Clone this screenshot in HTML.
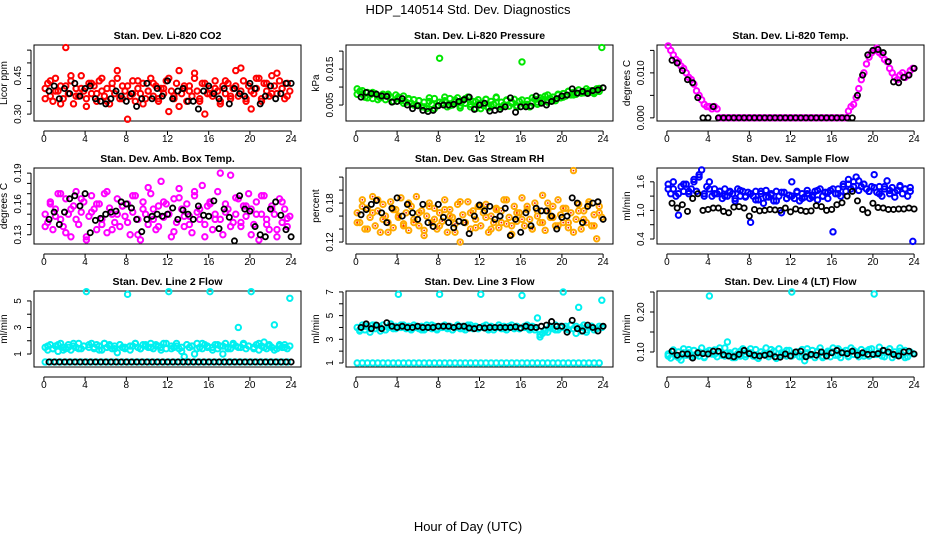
<!DOCTYPE html>
<html><head><meta charset="utf-8"><style>
html,body{margin:0;padding:0;background:#fff;}
svg{display:block;font-family:"Liberation Sans",sans-serif;}
</style></head><body>
<svg id="chart" width="936" height="540" viewBox="0 0 936 540" xmlns="http://www.w3.org/2000/svg">
<rect width="936" height="540" fill="#fff"/>
<text x="468" y="14" font-size="13" text-anchor="middle">HDP_140514  Std. Dev. Diagnostics</text>
<text x="468" y="531" font-size="13" text-anchor="middle">Hour of Day (UTC)</text>
</svg>
<script>
// ---- data ----
const co2Main=[0.40,0.42,0.37,0.35,0.44,0.39,0.41,0.36,0.56,0.38,0.43,0.34,0.40,0.37,0.45,0.39,0.36,0.42,0.38,0.41,0.35,0.43,0.39,0.37,0.40,0.34,0.42,0.38,0.44,0.36,0.41,0.39,0.28,0.37,0.43,0.35,0.40,0.38,0.42,0.36,0.39,0.44,0.37,0.41,0.35,0.40,0.38,0.43,0.31,0.39,0.36,0.42,0.47,0.38,0.40,0.35,0.41,0.37,0.44,0.39,0.36,0.42,0.30,0.38,0.40,0.37,0.43,0.39,0.35,0.41,0.38,0.42,0.36,0.40,0.47,0.37,0.39,0.43,0.35,0.41,0.32,0.38,0.40,0.44,0.36,0.42,0.39,0.37,0.45,0.41,0.38,0.43,0.40,0.36,0.42,0.39];
const co2Extra=[0.36,0.43,0.39,0.34,0.41,0.45,0.37,0.40,0.33,0.42,0.38,0.44,0.35,0.40,0.47,0.36,0.41,0.38,0.43,0.34,0.39,0.42,0.36,0.40,0.44,0.37,0.33,0.41,0.39,0.46,0.35,0.42,0.38,0.40,0.34,0.43,0.37,0.41,0.48,0.36,0.39,0.44,0.35,0.42,0.38,0.46,0.40,0.37];
const co2Black=[0.39,0.41,0.36,0.40,0.38,0.42,0.37,0.40,0.41,0.36,0.35,0.34,0.36,0.39,0.37,0.35,0.38,0.33,0.36,0.42,0.36,0.40,0.37,0.43,0.36,0.39,0.40,0.35,0.35,0.32,0.39,0.41,0.38,0.36,0.40,0.34,0.40,0.38,0.37,0.42,0.40,0.34,0.37,0.41,0.36,0.38,0.42,0.42];
const presMain=[0.0095,0.0088,0.0080,0.0072,0.0085,0.0078,0.0068,0.0082,0.0075,0.0070,0.0080,0.0065,0.0076,0.0072,0.0060,0.0078,0.0070,0.0062,0.0075,0.0058,0.0068,0.0055,0.0065,0.0050,0.0062,0.0045,0.0058,0.0040,0.0060,0.0052,0.0068,0.0048,0.0180,0.0055,0.0062,0.0045,0.0068,0.0050,0.0058,0.0070,0.0048,0.0062,0.0055,0.0072,0.0045,0.0060,0.0040,0.0065,0.0055,0.0048,0.0066,0.0042,0.0060,0.0052,0.0070,0.0045,0.0058,0.0050,0.0064,0.0047,0.0058,0.0066,0.0044,0.0060,0.0170,0.0050,0.0062,0.0045,0.0058,0.0066,0.0052,0.0070,0.0060,0.0075,0.0058,0.0068,0.0072,0.0062,0.0078,0.0070,0.0082,0.0075,0.0088,0.0078,0.0085,0.0080,0.0092,0.0083,0.0088,0.0095,0.0085,0.0090,0.0082,0.0095,0.0088,0.0210];
const presExtra=[0.0080,0.0090,0.0070,0.0085,0.0065,0.0075,0.0080,0.0060,0.0072,0.0055,0.0066,0.0050,0.0062,0.0045,0.0070,0.0040,0.0058,0.0072,0.0048,0.0064,0.0042,0.0068,0.0052,0.0060,0.0040,0.0066,0.0050,0.0072,0.0044,0.0062,0.0055,0.0048,0.0064,0.0052,0.0070,0.0058,0.0066,0.0078,0.0062,0.0080,0.0072,0.0088,0.0078,0.0092,0.0084,0.0090,0.0086,0.0096];
const presBlack=[0.0072,0.0085,0.0082,0.0080,0.0075,0.0074,0.0058,0.0060,0.0068,0.0050,0.0040,0.0048,0.0035,0.0032,0.0035,0.0048,0.0050,0.0050,0.0052,0.0060,0.0065,0.0072,0.0038,0.0050,0.0055,0.0033,0.0035,0.0038,0.0045,0.0070,0.0030,0.0045,0.0045,0.0047,0.0075,0.0055,0.0050,0.0060,0.0068,0.0075,0.0078,0.0095,0.0083,0.0088,0.0082,0.0090,0.0092,0.0098];
const tempMain=[0.0160,0.0150,0.0140,0.0130,0.0125,0.0115,0.0110,0.0100,0.0090,0.0085,0.0075,0.0060,0.0050,0.0040,0.0030,0.0025,0.0025,0.0020,0.0025,0.0020,0,0,0,0,0,0,0,0,0,0,0,0,0,0,0,0,0,0,0,0,0,0,0,0,0,0,0,0,0,0,0,0,0,0,0,0,0,0,0,0,0,0,0,0,0,0,0,0,0,0,0.0015,0.0025,0.0030,0.0045,0.0065,0.0085,0.0100,0.0120,0.0135,0.0145,0.0150,0.0155,0.0145,0.0140,0.0130,0.0125,0.0110,0.0100,0.0090,0.0085,0.0095,0.0100,0.0090,0.0095,0.0105,0.0110];
const tempBlack=[0.0128,0.0122,0.0105,0.0085,0.0078,0.0045,0,0,0.0025,0,0,0,0,0,0,0,0,0,0,0,0,0,0,0,0,0,0,0,0,0,0,0,0,0,0,0,0.0050,0.0095,0.0140,0.0150,0.0152,0.0145,0.0125,0.0080,0.0078,0.0090,0.0095,0.0110];
const boxMain=[0.150,0.142,0.160,0.135,0.155,0.170,0.145,0.138,0.165,0.150,0.128,0.158,0.172,0.140,0.152,0.162,0.125,0.148,0.168,0.155,0.135,0.160,0.145,0.170,0.132,0.156,0.150,0.142,0.165,0.138,0.158,0.148,0.160,0.130,0.152,0.168,0.145,0.125,0.162,0.150,0.140,0.170,0.155,0.135,0.158,0.182,0.147,0.160,0.150,0.128,0.165,0.142,0.175,0.155,0.138,0.160,0.148,0.132,0.168,0.152,0.145,0.178,0.140,0.158,0.162,0.135,0.150,0.172,0.145,0.130,0.160,0.155,0.188,0.142,0.150,0.165,0.138,0.158,0.148,0.170,0.155,0.140,0.162,0.125,0.150,0.168,0.145,0.135,0.158,0.150,0.128,0.165,0.142,0.155,0.138,0.148];
const boxExtra=[0.138,0.162,0.148,0.170,0.132,0.155,0.145,0.165,0.128,0.152,0.160,0.140,0.172,0.135,0.150,0.158,0.142,0.168,0.130,0.155,0.176,0.145,0.138,0.162,0.150,0.133,0.166,0.148,0.140,0.172,0.155,0.128,0.160,0.145,0.190,0.152,0.138,0.166,0.142,0.158,0.130,0.150,0.168,0.140,0.155,0.135,0.162,0.146];
const boxBlack=[0.145,0.152,0.140,0.152,0.165,0.168,0.158,0.170,0.132,0.144,0.146,0.150,0.152,0.153,0.162,0.160,0.156,0.145,0.133,0.145,0.148,0.150,0.148,0.150,0.156,0.145,0.154,0.150,0.145,0.158,0.149,0.148,0.163,0.136,0.155,0.147,0.124,0.168,0.155,0.153,0.138,0.130,0.128,0.155,0.162,0.149,0.135,0.128];
const rhMain=[0.165,0.150,0.185,0.140,0.172,0.158,0.190,0.145,0.168,0.135,0.178,0.160,0.150,0.182,0.142,0.170,0.158,0.188,0.148,0.165,0.138,0.175,0.155,0.190,0.145,0.168,0.130,0.160,0.180,0.150,0.172,0.140,0.165,0.152,0.185,0.135,0.170,0.158,0.148,0.178,0.120,0.162,0.150,0.182,0.140,0.168,0.155,0.175,0.145,0.165,0.178,0.135,0.160,0.150,0.172,0.142,0.168,0.185,0.148,0.158,0.132,0.175,0.152,0.165,0.188,0.145,0.170,0.155,0.140,0.180,0.160,0.150,0.192,0.138,0.168,0.158,0.175,0.145,0.185,0.162,0.150,0.172,0.142,0.165,0.230,0.155,0.178,0.140,0.168,0.150,0.182,0.145,0.162,0.125,0.175,0.158];
const rhExtra=[0.150,0.175,0.140,0.165,0.185,0.155,0.135,0.170,0.160,0.145,0.180,0.150,0.165,0.138,0.175,0.155,0.145,0.170,0.160,0.135,0.182,0.150,0.165,0.142,0.175,0.158,0.140,0.170,0.150,0.185,0.145,0.165,0.155,0.175,0.140,0.168,0.150,0.180,0.158,0.145,0.172,0.150,0.135,0.168,0.155,0.178,0.145,0.165];
const rhBlack=[0.162,0.170,0.178,0.184,0.165,0.150,0.172,0.188,0.160,0.178,0.165,0.155,0.178,0.150,0.144,0.178,0.158,0.150,0.142,0.152,0.150,0.133,0.160,0.177,0.168,0.175,0.155,0.160,0.172,0.130,0.155,0.135,0.165,0.145,0.172,0.168,0.168,0.160,0.140,0.158,0.160,0.188,0.180,0.150,0.175,0.180,0.182,0.155];
const flowMain=[1.55,1.35,1.45,1.30,0.90,1.50,1.40,1.55,1.35,1.45,1.60,1.40,1.70,1.85,1.35,1.50,1.60,1.30,1.45,1.35,1.40,1.25,1.45,1.30,1.40,1.35,1.20,1.45,1.30,1.40,1.28,1.38,0.75,1.30,1.40,1.22,1.35,1.15,1.42,1.28,1.35,1.20,1.40,1.30,0.95,1.38,1.25,1.32,1.60,1.25,1.38,1.20,1.35,1.28,1.42,1.25,1.32,1.40,1.22,1.45,1.30,1.38,1.25,1.42,0.55,1.35,1.45,1.30,1.50,1.40,1.55,1.45,1.60,1.70,1.62,1.50,1.55,1.45,1.40,1.50,1.75,1.38,1.50,1.30,1.45,1.62,1.35,1.48,1.28,1.42,1.52,1.35,1.45,1.30,1.48,0.35];
const flowExtra=[1.45,1.60,1.35,1.55,1.40,1.65,1.75,1.30,1.45,1.35,1.40,1.30,1.38,1.25,1.42,1.30,1.35,1.22,1.40,1.28,1.32,1.20,1.38,1.25,1.30,1.40,1.25,1.35,1.28,1.42,1.30,1.38,1.45,1.35,1.55,1.65,1.50,1.42,1.55,1.40,1.48,1.35,1.50,1.42,1.38,1.50,1.45,1.40];
const flowBlack=[1.15,1.05,1.12,0.98,1.25,1.35,1.00,1.02,1.05,1.05,0.98,0.95,1.07,1.08,1.05,0.88,1.02,0.99,1.00,1.02,1.01,1.00,1.05,0.97,1.03,1.00,0.98,0.99,1.10,1.08,1.00,1.02,1.12,1.16,1.30,1.40,1.20,1.02,0.95,1.15,1.06,1.05,1.02,1.02,1.03,1.03,1.05,1.03];
const line2Main=[1.5,1.3,1.7,1.4,1.6,1.2,1.8,1.5,1.4,1.7,1.3,1.6,1.5,1.8,1.4,1.6,5.7,1.5,1.8,1.4,1.7,1.6,1.3,1.8,1.5,1.7,1.4,1.6,1.1,1.7,1.5,1.4,5.5,1.3,1.6,1.8,1.5,1.4,1.7,1.6,1.5,1.8,1.4,1.7,1.6,1.5,1.8,1.4,5.7,1.6,1.5,1.8,1.4,1.2,0.8,1.7,1.5,1.6,1.0,1.8,1.5,1.4,1.7,1.6,5.7,1.5,1.7,1.4,1.6,1.0,1.8,1.5,1.4,1.7,1.6,3.0,1.5,1.8,1.4,1.6,5.7,1.5,1.7,1.3,1.6,1.9,1.4,1.7,1.5,3.2,1.4,1.6,1.5,1.7,1.4,5.2];
const line2Low=[0.4,0.4,0.4,0.4,0.4,0.4,0.4,0.4,0.4,0.4,0.4,0.4,0.4,0.4,0.4,0.4,0.4,0.4,0.4,0.4,0.4,0.4,0.4,0.4,0.4,0.4,0.4,0.4,0.4,0.4,0.4,0.4,0.4,0.4,0.4,0.4,0.4,0.4,0.4,0.4,0.4,0.4,0.4,0.4,0.4,0.4,0.4,0.4];
const line2Extra=[1.6,1.4,1.7,1.3,1.5,1.8,1.4,1.6,1.7,1.5,1.3,1.8,1.6,1.4,1.7,1.5,1.6,1.8,1.4,1.7,1.5,1.6,1.3,1.8,1.4,1.6,1.5,1.7,1.6,1.4,1.8,1.5,1.3,1.7,1.6,1.4,1.8,1.5,1.7,1.6,1.4,1.8,1.5,1.6,1.3,1.7,1.5,1.6];
const line2Black=[0.4,0.4,0.4,0.4,0.4,0.4,0.4,0.4,0.4,0.4,0.4,0.4,0.4,0.4,0.4,0.4,0.4,0.4,0.4,0.4,0.4,0.4,0.4,0.4,0.4,0.4,0.4,0.4,0.4,0.4,0.4,0.4,0.4,0.4,0.4,0.4,0.4,0.4,0.4,0.4,0.4,0.4,0.4,0.4,0.4,0.4,0.4,0.4];
const line3Main=[4.0,3.7,4.2,3.8,4.1,3.6,4.2,3.9,4.1,3.7,4.2,3.8,4.0,4.3,3.9,4.1,6.8,4.0,4.2,3.9,4.1,3.8,4.2,4.0,3.9,4.1,3.8,4.2,4.0,3.9,4.1,3.8,6.8,4.0,4.2,3.9,4.1,3.8,4.0,4.2,3.9,4.1,3.8,4.0,4.2,3.9,4.1,3.9,6.8,4.0,4.2,3.9,4.1,3.8,4.0,4.2,3.9,4.1,3.8,4.0,4.2,3.9,4.1,3.9,6.7,4.0,4.2,3.9,4.1,3.8,4.8,3.2,3.5,3.8,3.6,4.1,3.9,4.2,3.8,4.0,7.0,4.1,3.8,4.2,3.9,4.1,5.7,3.7,4.2,3.6,4.0,4.1,3.8,3.9,4.1,6.3];
const line3Low=[1.0,1.0,1.0,1.0,1.0,1.0,1.0,1.0,1.0,1.0,1.0,1.0,1.0,1.0,1.0,1.0,1.0,1.0,1.0,1.0,1.0,1.0,1.0,1.0,1.0,1.0,1.0,1.0,1.0,1.0,1.0,1.0,1.0,1.0,1.0,1.0,1.0,1.0,1.0,1.0,1.0,1.0,1.0,1.0,1.0,1.0,1.0,1.0];
const line3Extra=[3.8,4.1,3.9,4.2,4.0,3.8,4.1,3.9,4.2,4.0,3.9,4.1,3.8,4.0,4.2,3.9,4.1,4.0,3.8,4.1,3.9,4.2,4.0,3.9,4.1,3.8,4.0,4.2,3.9,4.1,4.0,3.9,4.1,3.8,4.0,3.4,3.7,4.0,3.8,4.1,3.9,4.2,3.5,4.0,3.8,4.1,3.9,4.0];
const line3Black=[4.0,4.3,3.9,4.2,3.9,4.4,4.1,4.0,4.1,4.0,4.0,4.1,4.0,4.0,4.0,4.1,4.1,4.1,4.0,4.1,4.1,3.95,3.9,4.0,3.95,4.0,4.0,4.0,4.0,4.0,4.05,3.95,4.1,4.0,4.0,4.1,4.2,4.5,4.1,4.1,3.6,4.6,3.9,3.7,4.2,4.0,3.7,4.1];
const line4Main=[0.095,0.085,0.105,0.090,0.100,0.080,0.108,0.092,0.098,0.088,0.104,0.094,0.090,0.110,0.086,0.100,0.240,0.095,0.105,0.088,0.100,0.092,0.110,0.125,0.094,0.086,0.102,0.096,0.090,0.108,0.088,0.100,0.098,0.090,0.106,0.084,0.100,0.094,0.110,0.088,0.096,0.102,0.086,0.108,0.092,0.098,0.090,0.104,0.250,0.094,0.100,0.088,0.106,0.078,0.098,0.092,0.104,0.086,0.100,0.110,0.090,0.096,0.102,0.088,0.100,0.092,0.108,0.086,0.098,0.104,0.090,0.110,0.094,0.100,0.088,0.106,0.096,0.102,0.090,0.108,0.245,0.094,0.112,0.090,0.104,0.098,0.108,0.086,0.100,0.094,0.110,0.092,0.104,0.088,0.100,0.096];
const line4Extra=[0.090,0.102,0.086,0.098,0.106,0.092,0.100,0.088,0.104,0.094,0.110,0.090,0.098,0.086,0.102,0.094,0.108,0.088,0.100,0.092,0.106,0.084,0.098,0.104,0.090,0.100,0.088,0.108,0.094,0.102,0.086,0.098,0.110,0.092,0.100,0.088,0.104,0.096,0.090,0.106,0.094,0.100,0.088,0.108,0.092,0.102,0.086,0.098];
const line4Black=[0.102,0.092,0.095,0.095,0.085,0.098,0.096,0.095,0.102,0.102,0.093,0.090,0.088,0.094,0.104,0.096,0.092,0.090,0.092,0.095,0.088,0.087,0.095,0.090,0.100,0.102,0.088,0.094,0.092,0.100,0.090,0.098,0.104,0.098,0.096,0.102,0.092,0.098,0.094,0.094,0.096,0.104,0.100,0.094,0.090,0.100,0.102,0.095];
const xTickLabels=["0","4","8","12","16","20","24"];
const panelTitles=["Stan. Dev. Li-820 CO2","Stan. Dev. Li-820 Pressure","Stan. Dev. Li-820 Temp.","Stan. Dev. Amb. Box Temp.","Stan. Dev. Gas Stream RH","Stan. Dev. Sample Flow","Stan. Dev. Line 2 Flow","Stan. Dev. Line 3 Flow","Stan. Dev. Line 4 (LT) Flow"];
const yLabels=["Licor ppm","kPa","degrees C","degrees C","percent","ml/min","ml/min","ml/min","ml/min"];
const yTicks=[[0.30,0.35,0.40,0.45,0.50,0.55],[0.005,0.010,0.015,0.020],[0,0.005,0.010,0.015],[0.13,0.14,0.15,0.16,0.17,0.18,0.19],[0.12,0.14,0.16,0.18,0.20,0.22],[0.4,0.7,1.0,1.3,1.6],[1,2,3,4,5],[1,2,3,4,5,6,7],[0.10,0.15,0.20,0.25]];
const yTickText=[["0.30","","","0.45","",""],["0.005","","0.015",""],["0.000","","0.010",""],["0.13","","","0.16","","","0.19"],["0.12","","","0.18","",""],["0.4","","1.0","","1.6"],["1","","3","","5"],["1","","3","","5","","7"],["0.10","","0.20",""]];
const yRanges=[[0.273,0.57],[0.00056,0.0217],[-0.0007,0.0162],[0.121,0.195],[0.117,0.234],[0.295,1.89],[0.02,5.75],[0.66,7.08],[0.0625,0.2525]];
const mainSeries=[[co2Main,co2Extra],[presMain,presExtra],[tempMain],[boxMain,boxExtra],[rhMain,rhExtra],[flowMain,flowExtra],[line2Main,line2Low,line2Extra],[line3Main,line3Low,line3Extra],[line4Main,line4Extra]];
const blackSeries=[co2Black,presBlack,tempBlack,boxBlack,rhBlack,flowBlack,line2Black,line3Black,line4Black];
const seriesColors=["#ff0000","#00e600","#ff00ff","#ff00ff","#ffaa00","#0000ff","#00f0f0","#00f0f0","#00f0f0"];
const seriesNames=["co2","pressure","li820-temp","box-temp","rh","sample-flow","line2-flow","line3-flow","line4-flow"];

const NS="http://www.w3.org/2000/svg";
const svg=document.getElementById('chart');
const boxLefts=[34,346,657],boxTops=[45,168,291],BW=267,BH=76,XMIN=-0.96,XMAX=24.96;
const offsets=[0.5,0.25,0.75];
function mk(tag,attrs,parent){const e=document.createElementNS(NS,tag);for(const k in attrs)e.setAttribute(k,attrs[k]);parent.appendChild(e);return e;}
for(let p=0;p<9;p++){
  const L=boxLefts[p%3],T=boxTops[Math.floor(p/3)];
  const g=mk('g',{},svg);
  
  
  const xs=h=>L+(h-XMIN)/(XMAX-XMIN)*BW;
  const [y0,y1]=yRanges[p];
  const ys=v=>T+BH-(v-y0)/(y1-y0)*BH;
  const title=mk('text',{x:L+BW/2,y:T-6,'font-size':10.5,'font-weight':'bold','text-anchor':'middle'},g);
  title.textContent=panelTitles[p];
  
  
  const box=mk('rect',{x:L,y:T,width:BW,height:BH,fill:'none',stroke:'#000','stroke-width':1},g);
  
  
  const xa=mk('g',{},g);
  
  
  const ay=T+BH+10;
  mk('line',{x1:xs(0),x2:xs(24),y1:ay,y2:ay,stroke:'#000'},xa);
  xTickLabels.forEach(t=>{const h=+t;mk('line',{x1:xs(h),x2:xs(h),y1:ay,y2:ay+4,stroke:'#000'},xa);
    const tx=mk('text',{x:xs(h),y:ay+11,'font-size':10,'text-anchor':'middle'},xa);tx.textContent=t;});
  const ya=mk('g',{},g);
  
  
  const ax=L-3,tk=yTicks[p];
  mk('line',{x1:ax,x2:ax,y1:ys(tk[0]),y2:ys(tk[tk.length-1]),stroke:'#000'},ya);
  tk.forEach((v,i)=>{mk('line',{x1:ax,x2:ax-4,y1:ys(v),y2:ys(v),stroke:'#000'},ya);
    const s=(yTickText[p][i]||'').trim();
    if(s){const t=mk('text',{x:L-13,y:ys(v),'font-size':10,'text-anchor':'middle',transform:`rotate(-90 ${L-13} ${ys(v)})`},ya);t.textContent=s;}});
  const yl=mk('text',{x:L-27,y:T+BH/2,'font-size':10,'text-anchor':'middle',transform:`rotate(-90 ${L-27} ${T+BH/2})`},g);
  yl.textContent=yLabels[p];
  
  
  mainSeries[p].forEach((arr,si)=>{
    const sg=mk('g',{fill:'none',stroke:seriesColors[p],'stroke-width':2},g);
    
    
    const n=arr.length;
    arr.forEach((v,i)=>{const h=(i+offsets[si])*24/n;
      const c=mk('circle',{cx:xs(h),cy:ys(v),r:2.7},sg);
      
      
      if(p===4){mk('circle',{cx:xs(h),cy:ys(v),r:0.9,fill:'#ff2000',stroke:'none'},sg);}
    });
  });
  const bg=mk('g',{fill:'none',stroke:'#000','stroke-width':1.8},g);
  
  
  const bArr=blackSeries[p],bn=bArr.length;
  bArr.forEach((v,i)=>{const h=(i+1)*24/bn;
    const c=mk('circle',{cx:xs(h),cy:ys(v),r:2.6},bg);
    
    
  });
}
</script>
</body></html>
